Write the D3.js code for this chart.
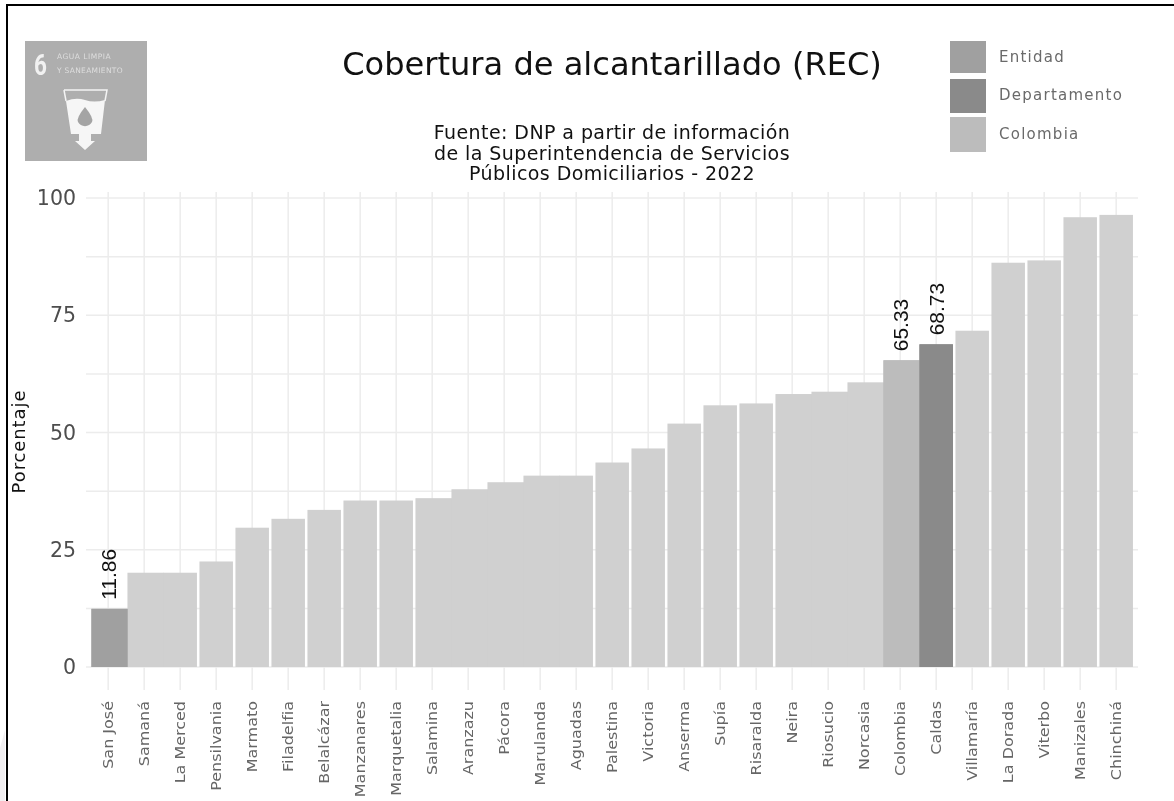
<!DOCTYPE html>
<html lang="es">
<head>
<meta charset="utf-8">
<title>Cobertura de alcantarillado (REC)</title>
<script src="https://cdn.jsdelivr.net/npm/d3@7/dist/d3.min.js"></script>
<style>
html,body{margin:0;padding:0;background:#fff;overflow:hidden}
svg{display:block;filter:blur(0.7px)}
text{font-family:"DejaVu Sans",sans-serif}
</style>
</head>
<body>
<div id="chart"></div>
<script>
const categories = ["San José","Samaná","La Merced","Pensilvania","Marmato","Filadelfia","Belalcázar","Manzanares","Marquetalia","Salamina","Aranzazu","Pácora","Marulanda","Aguadas","Palestina","Victoria","Anserma","Supía","Risaralda","Neira","Riosucio","Norcasia","Colombia","Caldas","Villamaría","La Dorada","Viterbo","Manizales","Chinchiná"];
const values = [12.4,20.1,20.1,22.5,29.7,31.6,33.5,35.5,35.5,36,37.9,39.4,40.8,40.8,43.6,46.6,51.9,55.8,56.2,58.2,58.7,60.7,65.4,68.8,71.7,86.2,86.7,95.9,96.4];
const yTicks = [0,25,50,75,100];
const yMinor = [12.5,37.5,62.5,87.5];
const labelled = ["San José","Colombia","Caldas"];
const labelTexts = ["11.86","65.33","68.73"];
const legendNames = ["Entidad","Departamento","Colombia"];
const subtitleLines = ["Fuente: DNP a partir de información","de la Superintendencia de Servicios","Públicos Domiciliarios - 2022"];
const touching = ["San José","Samaná","Salamina","Aranzazu","Pácora","Marulanda","Neira","Riosucio","Norcasia","Colombia"];

const W = 1174, H = 801;
const svg = d3.select("#chart").append("svg").attr("width",W).attr("height",H);
svg.append("rect").attr("width",W).attr("height",H).attr("fill","#fff");

const x = d3.scaleBand().domain(categories).range([90.2,1134.2]).paddingInner(0.07).paddingOuter(0.035);
const y = d3.scaleLinear().domain([0,100]).range([667,198]);
const barColor = d3.scaleOrdinal().domain(legendNames).range(["#a0a0a0","#8a8a8a","#bcbcbc"]);
const fillFor = c => c==="San José" ? barColor("Entidad") : c==="Caldas" ? barColor("Departamento") : c==="Colombia" ? barColor("Colombia") : "#d0d0d0";

// frame
svg.append("polygon").attr("points","0,748 5,730 5,801 0,801").attr("fill","#f1eff1");
svg.append("rect").attr("x",6).attr("y",4).attr("width",W-6).attr("height",2).attr("fill","#000");
svg.append("rect").attr("x",6).attr("y",4).attr("width",2).attr("height",H-4).attr("fill","#000");

// grid
const grid = svg.append("g").attr("stroke","#ececec").attr("stroke-width",1.5);
grid.selectAll(".h").data(yTicks.concat(yMinor)).join("line").attr("x1",86).attr("x2",1138)
  .attr("y1",d=>y(d)).attr("y2",d=>y(d));
grid.selectAll(".v").data(categories).join("line")
  .attr("x1",d=>x(d)+x.bandwidth()/2).attr("x2",d=>x(d)+x.bandwidth()/2).attr("y1",192).attr("y2",690);

// bars
svg.append("g").selectAll("rect").data(categories).join("rect")
  .attr("x",d=>x(d))
  .attr("width",d=>touching.includes(d) ? x.step()+0.6 : x.bandwidth())
  .attr("y",(d,i)=>y(values[i]))
  .attr("height",(d,i)=>y(0)-y(values[i]))
  .attr("fill",fillFor);
// darker bars stay on top of the neighbour they touch
svg.append("g").selectAll("rect").data(["San José","Colombia","Caldas"]).join("rect")
  .attr("x",d=>x(d))
  .attr("width",d=>d==="Caldas"?x.bandwidth():x.step())
  .attr("y",d=>y(values[categories.indexOf(d)]))
  .attr("height",d=>y(0)-y(values[categories.indexOf(d)]))
  .attr("fill",fillFor);

// y axis
const yAxis = svg.append("g").attr("transform","translate(76,0)")
  .call(d3.axisLeft(y).tickValues(yTicks).tickSize(0).tickPadding(0));
yAxis.select(".domain").remove();
yAxis.selectAll("text").attr("font-size",20.5).attr("fill","#4d4d4d").style("font-family",'"DejaVu Sans",sans-serif');

svg.append("text").attr("transform","translate(25,441.5) rotate(-90)").attr("text-anchor","middle")
  .attr("font-size",18).attr("letter-spacing",0.9).attr("fill","#111").text("Porcentaje");

// x labels
const xAxis = svg.append("g").attr("transform","translate(0,701)")
  .call(d3.axisBottom(x).tickSize(0).tickPadding(0));
xAxis.select(".domain").remove();
xAxis.selectAll("text")
  .attr("transform","rotate(-90) scale(1,0.85)").attr("x",0).attr("y",0).attr("dy","0.35em")
  .attr("text-anchor","end").attr("font-size",16).attr("fill","#666")
  .style("font-family",'"DejaVu Sans",sans-serif');

// value labels
svg.append("g").selectAll("text").data(labelled).join("text")
  .attr("transform",d=>`translate(${x(d)+x.bandwidth()/2},${y(values[categories.indexOf(d)])-9}) rotate(-90)`)
  .attr("dy","0.35em").attr("font-size",21).attr("fill","#111")
  .style("font-family",'"Liberation Sans",sans-serif')
  .text((d,i)=>labelTexts[i]);

// titles
svg.append("text").attr("x",612).attr("y",75).attr("text-anchor","middle").attr("font-size",32.1).attr("fill","#111")
  .text("Cobertura de alcantarillado (REC)");
svg.append("g").selectAll("text").data(subtitleLines).join("text")
  .attr("x",612).attr("y",(d,i)=>139+i*20.5).attr("text-anchor","middle").attr("font-size",19).attr("letter-spacing",0.42).attr("fill","#111").text(d=>d);

// legend
const legend = svg.append("g");
const swatchTop = [41,79,117], swatchH = [32,34,35];
legend.selectAll("rect").data(legendNames).join("rect")
  .attr("x",950).attr("width",36).attr("y",(d,i)=>swatchTop[i]).attr("height",(d,i)=>swatchH[i]).attr("fill",d=>barColor(d));
legend.selectAll("text").data(legendNames).join("text")
  .attr("x",999).attr("y",(d,i)=>[62,100,139][i]).attr("font-size",15).attr("letter-spacing",1.25).attr("fill","#6a6a6a").text(d=>d);

// goal icon
const logo = svg.append("g");
logo.append("rect").attr("x",25).attr("y",41).attr("width",122).attr("height",120).attr("fill","#aeaeae");
logo.append("text").attr("transform","translate(34,75) scale(0.75,1)").attr("font-size",30).attr("font-weight",700).attr("fill","#f1f1f1")
  .style("font-family","Roboto,sans-serif").text("6");
logo.append("text").attr("x",57).attr("y",59).attr("font-size",7.5).attr("letter-spacing",0.5).attr("fill","#dedede").text("AGUA LIMPIA");
logo.append("text").attr("x",57).attr("y",73).attr("font-size",7.5).attr("letter-spacing",0.3).attr("fill","#dedede").text("Y SANEAMIENTO");
logo.append("path").attr("d","M64 90H107L105 101").attr("fill","none").attr("stroke","#f4f4f4").attr("stroke-width",1.5);
logo.append("path").attr("d","M64 90L66 101").attr("fill","none").attr("stroke","#f4f4f4").attr("stroke-width",1.5);
logo.append("path").attr("d","M66 101Q76 97 85 100T105 100L101 134H91V141H95L85 150L75 141H79V134H71Z").attr("fill","#f6f6f6");
logo.append("path").attr("d","M85 107Q94 118 92 122A8 8 0 0 1 78 122Q76 118 85 107Z").attr("fill","#a4a4a4");
</script>
</body>
</html>
